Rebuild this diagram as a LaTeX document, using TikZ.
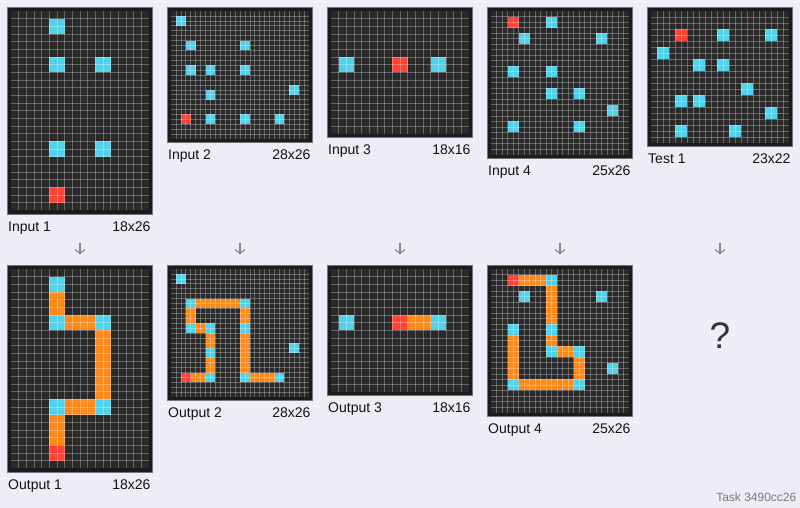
\documentclass[tikz,border=0pt]{standalone}
\usepackage{fontspec}
\setmainfont{Liberation Sans}
\usetikzlibrary{arrows.meta}
\definecolor{bgcol}{HTML}{EDEDF5}
\definecolor{framecol}{HTML}{1C1C1C}
\definecolor{cellbg}{HTML}{2A2A2A}
\definecolor{az}{HTML}{52D1EA}
\definecolor{rd}{HTML}{FF4136}
\definecolor{og}{HTML}{FF8A1C}
\definecolor{arrcol}{HTML}{888888}
\definecolor{qcol}{HTML}{333333}
\definecolor{taskcol}{HTML}{7A7A7A}
\newcommand{\arcblk}[3]{\fill[#3] (#1,#2) rectangle ++(2,2);}
\newcommand{\arcseg}[4]{\fill[og] (#1,#2) rectangle ++(#3,#4);}
\newcommand{\arcgrid}[6]{%
  \begin{scope}[shift={(#1,#2)},x=#5pt,y=-#5pt]
    \fill[framecol] ([shift={(-3.5pt,3.5pt)}]0,0) rectangle ([shift={(3.5pt,-3.5pt)}]#3,#4);
    \draw[frameline] ([shift={(-3.5pt,3.5pt)}]0,0) rectangle ([shift={(3.5pt,-3.5pt)}]#3,#4);
    \fill[cellbg] (0,0) rectangle (#3,#4);
    #6
    \pgfmathtruncatemacro{\arccm}{#3-1}
    \pgfmathtruncatemacro{\arcrm}{#4-1}
    \foreach \i in {1,...,\arccm} {\draw[gl] (\i,0) -- (\i,#4);}
    \foreach \j in {1,...,\arcrm} {\draw[gl] (0,\j) -- (#3,\j);}
  \end{scope}}
\begin{document}
\begin{tikzpicture}[x=1pt,y=-1pt,
  lbl/.style={inner sep=0pt,font=\fontsize{14}{16}\selectfont,text=black!93},
  gl/.style={white,opacity=0.28,line width=0.7pt},
  frameline/.style={draw=black!55,line width=0.5pt},
  arr/.style={arrcol,line width=1.1pt,-{Straight Barb[length=4.5pt,width=10pt]}}]
\useasboundingbox (0,0) rectangle (800,508);
\fill[bgcol] (0,0) rectangle (800,508);

% ---------- inputs ----------
\arcgrid{11}{11}{18}{26}{7.6667}{%
  \arcblk{5}{1}{az}\arcblk{5}{6}{az}\arcblk{11}{6}{az}
  \arcblk{5}{17}{az}\arcblk{11}{17}{az}\arcblk{5}{23}{rd}}
\arcgrid{171}{11}{28}{26}{4.92857}{%
  \arcblk{1}{1}{az}\arcblk{3}{6}{az}\arcblk{14}{6}{az}
  \arcblk{3}{11}{az}\arcblk{7}{11}{az}\arcblk{14}{11}{az}
  \arcblk{24}{15}{az}\arcblk{7}{16}{az}\arcblk{7}{21}{az}
  \arcblk{14}{21}{az}\arcblk{21}{21}{az}\arcblk{2}{21}{rd}}
\arcgrid{331}{11}{18}{16}{7.6667}{%
  \arcblk{1}{6}{az}\arcblk{8}{6}{rd}\arcblk{13}{6}{az}}
\arcgrid{491}{11}{25}{26}{5.52}{%
  \arcblk{3}{1}{rd}\arcblk{10}{1}{az}\arcblk{5}{4}{az}\arcblk{19}{4}{az}
  \arcblk{3}{10}{az}\arcblk{10}{10}{az}\arcblk{10}{14}{az}\arcblk{15}{14}{az}
  \arcblk{21}{17}{az}\arcblk{3}{20}{az}\arcblk{15}{20}{az}}
\arcgrid{651}{11}{23}{22}{6}{%
  \arcblk{4}{3}{rd}\arcblk{11}{3}{az}\arcblk{19}{3}{az}\arcblk{1}{6}{az}
  \arcblk{7}{8}{az}\arcblk{11}{8}{az}\arcblk{15}{12}{az}\arcblk{4}{14}{az}
  \arcblk{7}{14}{az}\arcblk{19}{16}{az}\arcblk{4}{19}{az}\arcblk{13}{19}{az}}

% ---------- outputs ----------
\arcgrid{11}{269}{18}{26}{7.6667}{%
  \arcseg{5}{19}{2}{4}\arcseg{7}{17}{4}{2}\arcseg{11}{8}{2}{9}
  \arcseg{7}{6}{4}{2}\arcseg{5}{3}{2}{3}
  \arcblk{5}{1}{az}\arcblk{5}{6}{az}\arcblk{11}{6}{az}
  \arcblk{5}{17}{az}\arcblk{11}{17}{az}\arcblk{5}{23}{rd}}
\arcgrid{171}{269}{28}{26}{4.92857}{%
  \arcseg{4}{21}{3}{2}\arcseg{7}{18}{2}{3}\arcseg{7}{13}{2}{3}
  \arcseg{5}{11}{2}{2}\arcseg{3}{8}{2}{3}\arcseg{5}{6}{9}{2}
  \arcseg{14}{8}{2}{3}\arcseg{14}{13}{2}{8}\arcseg{16}{21}{5}{2}
  \arcblk{1}{1}{az}\arcblk{3}{6}{az}\arcblk{14}{6}{az}
  \arcblk{3}{11}{az}\arcblk{7}{11}{az}\arcblk{14}{11}{az}
  \arcblk{24}{15}{az}\arcblk{7}{16}{az}\arcblk{7}{21}{az}
  \arcblk{14}{21}{az}\arcblk{21}{21}{az}\arcblk{2}{21}{rd}}
\arcgrid{331}{269}{18}{16}{7.6667}{%
  \arcseg{10}{6}{3}{2}
  \arcblk{1}{6}{az}\arcblk{8}{6}{rd}\arcblk{13}{6}{az}}
\arcgrid{491}{269}{25}{26}{5.52}{%
  \arcseg{5}{1}{5}{2}\arcseg{10}{3}{2}{7}\arcseg{10}{12}{2}{2}
  \arcseg{12}{14}{3}{2}\arcseg{15}{16}{2}{4}\arcseg{5}{20}{10}{2}
  \arcseg{3}{12}{2}{8}
  \arcblk{3}{1}{rd}\arcblk{10}{1}{az}\arcblk{5}{4}{az}\arcblk{19}{4}{az}
  \arcblk{3}{10}{az}\arcblk{10}{10}{az}\arcblk{10}{14}{az}\arcblk{15}{14}{az}
  \arcblk{21}{17}{az}\arcblk{3}{20}{az}\arcblk{15}{20}{az}}

% ---------- labels ----------
\node[lbl,anchor=base west] (lin1) at (8,231.1) {Input 1};
\node[lbl,anchor=base east] (din1) at (150.6,231.1) {18x26};
\node[lbl,anchor=base west] (lin2) at (168,159.9) {Input 2};
\node[lbl,anchor=base east] (din2) at (310.6,159.9) {28x26};
\node[lbl,anchor=base west] (lin3) at (328,154.5) {Input 3};
\node[lbl,anchor=base east] (din3) at (470.6,154.5) {18x16};
\node[lbl,anchor=base west] (lin4) at (488,175.3) {Input 4};
\node[lbl,anchor=base east] (din4) at (630.6,175.3) {25x26};
\node[lbl,anchor=base west] (lte1) at (648,163.8) {Test 1};
\node[lbl,anchor=base east] (dte1) at (790.6,163.8) {23x22};

\node[lbl,anchor=base west] (lout1) at (8,489.1) {Output 1};
\node[lbl,anchor=base east] (dout1) at (150.6,489.1) {18x26};
\node[lbl,anchor=base west] (lout2) at (168,417.9) {Output 2};
\node[lbl,anchor=base east] (dout2) at (310.6,417.9) {28x26};
\node[lbl,anchor=base west] (lout3) at (328,412.5) {Output 3};
\node[lbl,anchor=base east] (dout3) at (470.6,412.5) {18x16};
\node[lbl,anchor=base west] (lout4) at (488,433.3) {Output 4};
\node[lbl,anchor=base east] (dout4) at (630.6,433.3) {25x26};

% ---------- arrows ----------
\foreach \k in {0,...,4} {
  \coordinate (at\k) at ({80+160*\k},242.5);
  \coordinate (ab\k) at ({80+160*\k},254.5);
  \draw[arr] (at\k) -- (ab\k);
}

\node[inner sep=0pt,font=\fontsize{37}{40}\selectfont,text=qcol] (qm) at (720,336) {?};
\node[inner sep=0pt,anchor=base east,font=\fontsize{12}{14}\selectfont,text=taskcol] (task) at (796.5,501.7) {Task 3490cc26};
\end{tikzpicture}
\end{document}
